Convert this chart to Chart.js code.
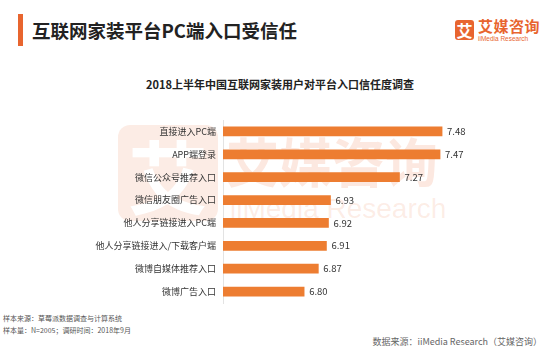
<!DOCTYPE html>
<html>
<head>
<meta charset="utf-8">
<script src="https://cdn.jsdelivr.net/npm/chart.js@4"></script>
<style>
  html, body { margin: 0; padding: 0; background: #fff; }
  body { width: 549px; height: 351px; position: relative; overflow: hidden; font-family: "Noto Sans CJK SC", sans-serif; }
  .abs { position: absolute; white-space: nowrap; }
  #titleBar { left: 18px; top: 14px; width: 5px; height: 32px; background: #E8652F; }
  #title { left: 32px; top: 16px; font-size: 18.5px; font-weight: 600; color: #222; line-height: 28px; }
  #logoBox { left: 455px; top: 20px; width: 19px; height: 20px; background: #E8652F; border-radius: 3px; color: #fff; font-size: 16px; font-weight: 700; text-align: center; line-height: 20px; }
  #logoCn { left: 478px; top: 17px; font-size: 15px; color: #E8652F; font-weight: 600; line-height: 18px; letter-spacing: 0.5px; }
  #logoEn { left: 478px; top: 35px; font-size: 6.5px; color: #E8652F; font-family: "Liberation Sans", Arial, sans-serif; line-height: 8px; }
  #sub { left: 0; width: 560px; text-align: center; top: 75px; font-size: 11px; font-weight: 700; color: #222; line-height: 18px; }
  #wmBox { left: 118px; top: 125px; width: 100px; height: 96px; background: rgba(240,150,110,0.18); border-radius: 12px; color: #fff; font-size: 80px; font-weight: 700; text-align: center; line-height: 96px; }
  #wmCn { left: 226px; top: 124px; font-size: 53px; font-weight: 700; color: rgba(240,140,100,0.2); line-height: 72px; }
  #wmEn { left: 230px; top: 193px; font-size: 28px; color: rgba(240,140,100,0.16); font-family: "Liberation Sans", Arial, sans-serif; line-height: 32px; }
  #note1 { left: 3px; top: 313px; font-size: 7px; color: #555; line-height: 10px; }
  #note2 { left: 3px; top: 325px; font-size: 7px; color: #555; line-height: 10px; }
  #src { right: 7px; top: 335px; font-size: 9px; color: #666; line-height: 14px; }
  #wrap { position: absolute; left: 0; top: 0; width: 549px; height: 351px; }
</style>
</head>
<body>
<div class="abs" id="titleBar"></div>
<div class="abs" id="title">互联网家装平台PC端入口受信任</div>
<div class="abs" id="logoBox">艾</div>
<div class="abs" id="logoCn">艾媒咨询</div>
<div class="abs" id="logoEn">iiMedia Research</div>
<div class="abs" id="sub">2018上半年中国互联网家装用户对平台入口信任度调查</div>
<div class="abs" id="wmBox">艾</div>
<div class="abs" id="wmCn">艾媒咨询</div>
<div class="abs" id="wmEn">iiMedia Research</div>
<div class="abs" id="note1">样本来源：草莓派数据调查与计算系统</div>
<div class="abs" id="note2">样本量：N=2005；调研时间：2018年9月</div>
<div class="abs" id="src">数据来源：iiMedia Research（艾媒咨询）</div>
<div id="wrap"><canvas id="myChart"></canvas></div>
<script>
// trust score for each platform entry
const categories = ['直接进入PC端', 'APP端登录', '微信公众号推荐入口', '微信朋友圈广告入口', '他人分享链接进入PC端', '他人分享链接进入/下载客户端', '微博自媒体推荐入口', '微博广告入口'];
const scores = [7.48, 7.47, 7.27, 6.93, 6.92, 6.91, 6.87, 6.80];

const valueLabels = {
    id: 'valueLabels',
    afterDatasetsDraw(chart) {
        const c = chart.ctx;
        c.save();
        c.font = '9.5px "Noto Sans CJK SC", sans-serif';
        c.fillStyle = '#333';
        c.textBaseline = 'middle';
        chart.getDatasetMeta(0).data.forEach((bar, i) => {
            c.fillText(scores[i].toFixed(2), bar.x + 5, bar.y);
        });
        c.restore();
    }
};

const ctx = document.getElementById("myChart").getContext("2d");
const myChart = new Chart(ctx, {
    type: "bar",
    data: {
        labels: categories,
        datasets: [
            {
                label: '信任度',
                data: scores,
                backgroundColor: '#ED7D31',
                barThickness: 9,
            },
        ],
    },
    options: {
        indexAxis: 'y',
        responsive: true,
        maintainAspectRatio: false,
        animation: false,
        layout: { padding: { left: 0, right: 42, top: 120, bottom: 48 } },
        scales: {
            x: { display: false, min: 6.4, max: 7.8 },
            y: {
                grid: { display: false, drawTicks: false },
                border: { display: true, color: '#e3e3e3' },
                ticks: { color: '#333', padding: 7, font: { size: 9, family: '"Noto Sans CJK SC", sans-serif' } },
                afterFit(scale) { scale.width = 223; },
            },
        },
        plugins: {
            legend: { display: false },
            tooltip: { enabled: false },
        },
    },
    plugins: [valueLabels]
});
</script>
</body>
</html>
